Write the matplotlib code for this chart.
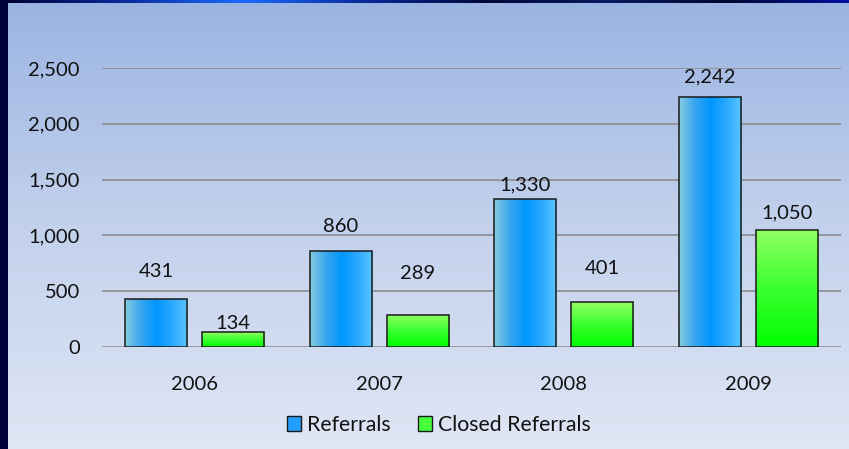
import numpy as np
import matplotlib
matplotlib.use('Agg')
import matplotlib.pyplot as plt
from matplotlib.colors import LinearSegmentedColormap
from matplotlib.patches import Rectangle

plt.rcParams['font.family'] = ['Lato', 'DejaVu Sans']

years = ['2006', '2007', '2008', '2009']
referrals = [431, 860, 1330, 2242]
closed = [134, 289, 401, 1050]
# label offsets above bar top (pixels), as placed in the original
ref_lbl_off = [27, 25, 14, 20]
closed_lbl_off = [9, 41, 34, 17]

W, H = 849, 449
fig = plt.figure(figsize=(W / 100, H / 100), dpi=100)

# background panel + dark frame
bg = fig.add_axes([0, 0, 1, 1])
bg.set_axis_off()
bg.set_xlim(0, W)
bg.set_ylim(H, 0)
panel = LinearSegmentedColormap.from_list('panel', ['#9ab4e2', '#c3d1ec', '#dfe6f5'])
grad = np.linspace(0, 1, 256).reshape(-1, 1)
bg.imshow(grad, cmap=panel, extent=[0, W, H, 0], aspect='auto')
topcm = LinearSegmentedColormap.from_list('top', ['#000030', '#0a2a9a', '#1a6cff', '#0a2a9a',
                                                  '#00083a', '#0a1a60', '#000830', '#0010a0'])
bg.imshow(np.linspace(0, 1, 256).reshape(1, -1), cmap=topcm, extent=[0, W, 3.5, 0], aspect='auto')
bg.add_patch(Rectangle((0, 0), 8, H, color='#000038', lw=0))

ax = fig.add_axes([102 / W, 1 - 347 / H, (841 - 102) / W, (347 - 68) / H])
ax.set_facecolor('none')
ax.set_xlim(-0.5, 3.5)
ax.set_ylim(0, 2500)
for s in ax.spines.values():
    s.set_visible(False)
ax.set_yticks(range(0, 2501, 500))
ax.set_yticklabels(['{:,}'.format(v) for v in range(0, 2501, 500)])
ax.yaxis.grid(True, color='#8c8c8c', lw=1.2)
ax.set_axisbelow(True)
x = np.arange(len(years))
ax.set_xticks(x)
ax.set_xticklabels(years)
ax.tick_params(axis='y', length=0, pad=16, labelsize=14.5, colors='#111111')
ax.tick_params(axis='x', length=0, pad=21, labelsize=14.5, colors='#111111')

bw = 0.336
off = 0.208
blue_cm = LinearSegmentedColormap.from_list('blue', ['#86cbe0', '#3aa6ee', '#0096ff', '#2aa8ff', '#5cc6ff'])
green_cm = LinearSegmentedColormap.from_list('green', ['#00ff00', '#3aff30', '#92ff62'])

b1 = ax.bar(x - off, referrals, bw, facecolor='none', edgecolor='#1a1a1a', lw=1.1, zorder=3)
b2 = ax.bar(x + off, closed, bw, facecolor='none', edgecolor='#1a1a1a', lw=1.1, zorder=3)
for bar in b1:
    x0, w, h = bar.get_x(), bar.get_width(), bar.get_height()
    im = ax.imshow(np.linspace(0, 1, 256).reshape(1, -1), cmap=blue_cm,
                   extent=[x0, x0 + w, 0, h], aspect='auto', zorder=2)
    im.set_clip_path(bar)
for bar in b2:
    x0, w, h = bar.get_x(), bar.get_width(), bar.get_height()
    im = ax.imshow(np.linspace(0, 1, 256).reshape(-1, 1), cmap=green_cm, origin='lower',
                   extent=[x0, x0 + w, 0, h], aspect='auto', zorder=2)
    im.set_clip_path(bar)
ax.set_xlim(-0.5, 3.5)
ax.set_ylim(0, 2500)

for bars, vals, offs in [(b1, referrals, ref_lbl_off), (b2, closed, closed_lbl_off)]:
    for bar, v, o in zip(bars, vals, offs):
        ax.annotate('{:,}'.format(v), (bar.get_x() + bar.get_width() / 2, v),
                    xytext=(0, o), textcoords='offset pixels', ha='center', va='center',
                    fontsize=14.5, color='#111111', zorder=4)

handles = [Rectangle((0, 0), 1, 1, facecolor='#22a0ff', edgecolor='#1a1a1a', lw=1),
           Rectangle((0, 0), 1, 1, facecolor='#44ff3a', edgecolor='#1a1a1a', lw=1)]
fig.legend(handles, ['Referrals', 'Closed Referrals'], loc='center',
           bbox_to_anchor=(439 / W, 1 - 425 / H), ncol=2, frameon=False,
           fontsize=15.3, handlelength=0.65, handleheight=0.65, handletextpad=0.28,
           columnspacing=1.3, labelcolor='#111111')

fig.savefig('out.png', dpi=100)
